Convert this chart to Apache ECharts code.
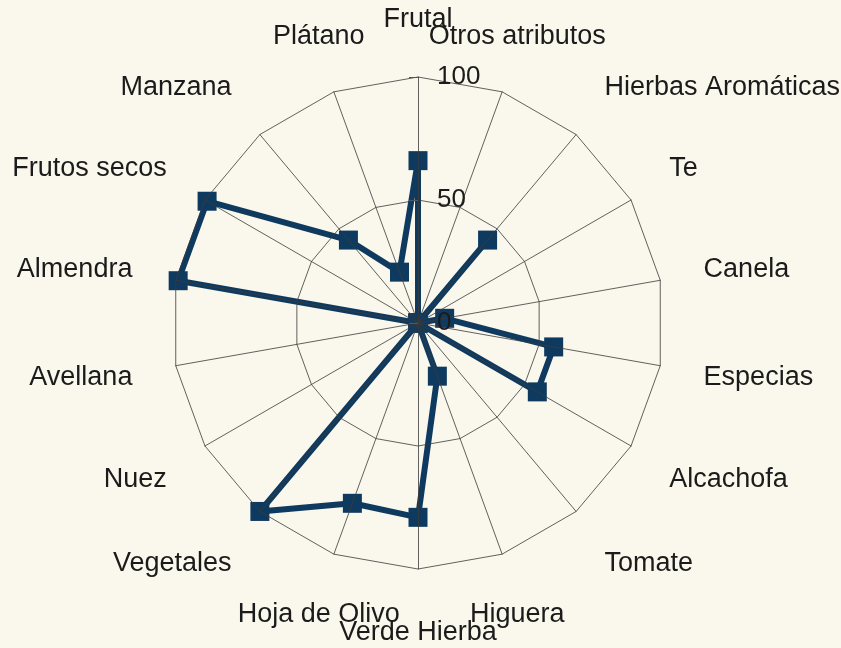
<!DOCTYPE html>
<html>
<head>
<meta charset="utf-8">
<script src="https://cdn.jsdelivr.net/npm/echarts@6/dist/echarts.min.js"></script>
<style>
html,body{margin:0;padding:0;background:#faf7ec;}
#chart{width:841px;height:648px;}
</style>
</head>
<body>
<div id="chart"></div>
<script>
// Categories in clockwise order starting at the top
const categories = ['Frutal','Otros atributos','Hierbas Aromáticas','Te','Canela','Especias','Alcachofa','Tomate','Higuera','Verde Hierba','Hoja de Olivo','Vegetales','Nuez','Avellana','Almendra','Frutos secos','Manzana','Plátano'];
const values = [66, 0, 44, 0, 11, 56, 56, 0, 23, 79, 78, 100, 0, 0, 99, 99, 44, 22];
const tickLabels = [0, 50, 100];

const CX = 418, CY = 323, RADIUS = 246, LABEL_R = 290;
const FAMILY = '"Liberation Sans", Arial, sans-serif';
const FONT = '27px ' + FAMILY;
const INK = '#1b1b1b';
const NAVY = '#0f3a60';

// ECharts radar runs counter-clockwise; reorder to get clockwise layout
const order = [0].concat(categories.map((_, i) => i).slice(1).reverse());
const indicator = order.map((idx, k) => {
  const ind = { name: categories[idx], min: tickLabels[0], max: tickLabels[tickLabels.length - 1] };
  if (k === 0) {
    ind.axisLabel = { show: true, showMinLabel: true, color: INK, fontSize: 26, fontFamily: FAMILY, margin: -19, align: 'left', verticalAlign: 'middle' };
    ind.axisTick = { show: true, inside: true, length: 9, lineStyle: { color: '#555', width: 1 } };
  }
  return ind;
});
const seriesValues = order.map(idx => values[idx]);

// category labels positioned around the outer polygon
const labelGraphics = categories.map((name, i) => {
  const a = i * 2 * Math.PI / categories.length;
  const s = Math.sin(a), c = Math.cos(a);
  let x = CX + LABEL_R * s, y = CY - LABEL_R * c;
  let align, valign;
  if (Math.abs(s) < 0.4) {
    align = 'center';
    valign = c > 0 ? 'bottom' : 'top';
    if (c < 0) y += 6;
  } else {
    align = s > 0 ? 'left' : 'right';
    valign = 'middle';
    y -= c * (c > 0 ? 18 : 24);
  }
  return {
    type: 'text',
    silent: true,
    style: { text: name, x: x, y: y, align: align, verticalAlign: valign, font: FONT, fill: INK }
  };
});

const chart = echarts.init(document.getElementById('chart'), null, { renderer: 'canvas' });
chart.setOption({
  backgroundColor: '#faf7ec',
  animation: false,
  radar: {
    z: 3,
    center: [CX, CY],
    radius: RADIUS,
    startAngle: 90,
    shape: 'polygon',
    splitNumber: 2,
    indicator: indicator,
    axisName: { show: false },
    axisLabel: { show: false },
    axisTick: { show: false },
    axisLine: { lineStyle: { color: '#3a3a3a', width: 0.8 } },
    splitLine: { lineStyle: { color: '#3a3a3a', width: 0.8 } },
    splitArea: { show: false }
  },
  graphic: labelGraphics,
  series: [{
    type: 'radar',
    z: 2,
    symbol: 'rect',
    symbolSize: 19,
    lineStyle: { color: NAVY, width: 6 },
    itemStyle: { color: NAVY },
    data: [{ value: seriesValues }]
  }]
});
</script>
</body>
</html>
